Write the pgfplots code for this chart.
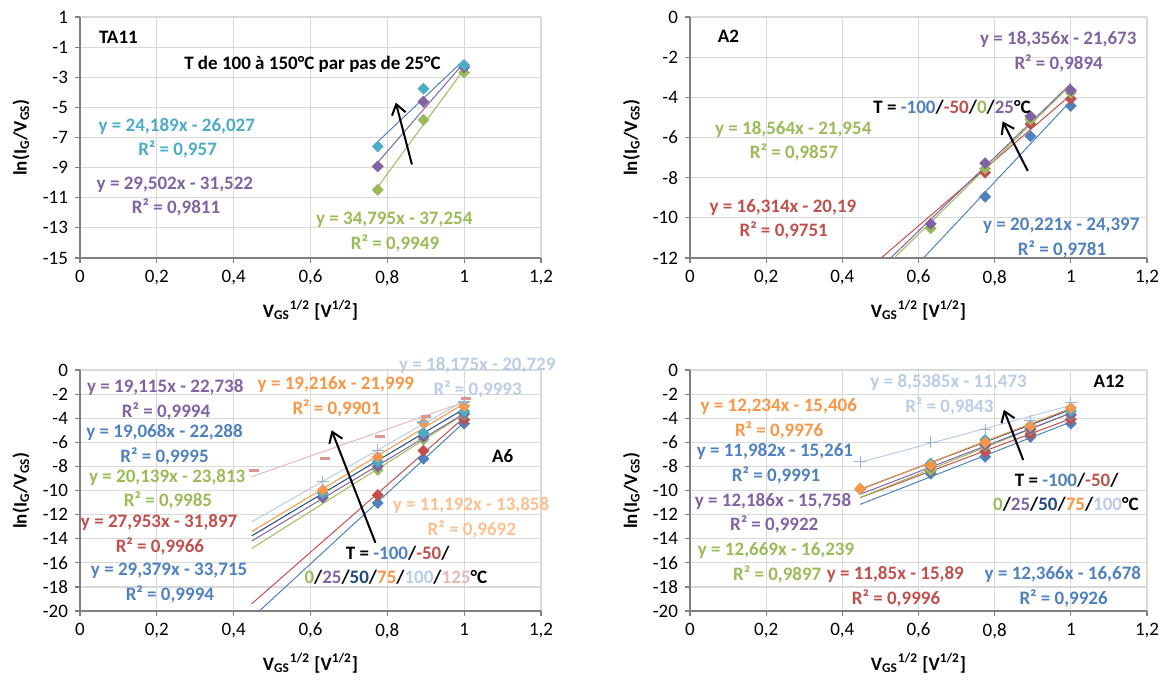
\documentclass[border=0pt]{standalone}
\usepackage{fontspec}
\setmainfont{Carlito}
\usepackage{pgfplots}
\pgfplotsset{compat=1.18}
\usetikzlibrary{arrows.meta}
\definecolor{xblue}{HTML}{4F81BD}
\definecolor{xred}{HTML}{C0504D}
\definecolor{xgreen}{HTML}{9BBB59}
\definecolor{xpurple}{HTML}{8064A2}
\definecolor{xaqua}{HTML}{4BACC6}
\definecolor{xorange}{HTML}{F79646}
\definecolor{xnavy}{HTML}{1F497D}
\definecolor{xlblue}{HTML}{B9CDE5}
\definecolor{xlbluem}{HTML}{95B3D7}
\definecolor{xpeach}{HTML}{FAC090}
\definecolor{xpink}{HTML}{E6B9B8}
\definecolor{xpinkm}{HTML}{D99694}
\definecolor{gridgray}{HTML}{D9D9D9}
\definecolor{axisgray}{HTML}{808080}
\newcommand{\ef}{\bfseries\fontsize{9.5}{11}\selectfont}
\pgfplotsset{
  panel/.style={
    scale only axis, height=120.5pt,
    xmin=0, xmax=1.2, xtick={0,0.2,0.4,0.6,0.8,1,1.2},
    axis lines*=left, axis line style={-, draw=axisgray, line width=0.9pt},
    grid=major, major grid style={draw=gridgray, line width=0.6pt},
    tick align=outside, major tick length=2.5pt, tick style={draw=axisgray, line width=0.6pt},
    tick label style={font=\fontsize{9.5}{11}\selectfont},
    /pgf/number format/assume math mode=true,
    xticklabel style={/pgf/number format/.cd, fixed, use comma, precision=1},
    yticklabel style={/pgf/number format/.cd, fixed, use comma},
    xlabel={V\textsubscript{GS}\textsuperscript{1/2} [V\textsuperscript{1/2}]},
    ylabel={ln(I\textsubscript{G}/V\textsubscript{GS})},
    label style={font=\ef},
    xlabel style={at={(axis description cs:0.5,-0.216)}, anchor=center},
    ylabel style={at={(axis description cs:-0.128,0.5)}, anchor=center},
    clip mode=individual,
  },
  tl/.style={no markers, line width=0.5pt, draw=#1},
  dm/.style={only marks, mark=square*, mark size=1.9pt, mark options={rotate=45, draw=#1, fill=#1}},
  pm/.style={only marks, mark=+, mark size=3pt, mark options={draw=#1, line width=0.6pt}},
  mm/.style={only marks, mark=-, mark size=2.5pt, mark options={draw=#1, line width=1.5pt}},
}
\tikzset{eq/.style={font=\ef, anchor=center, inner sep=0pt}, arr/.style={-{Straight Barb[length=5pt,width=7pt]}, line width=1pt, black}}
\begin{document}
\begin{tikzpicture}
\useasboundingbox (0,0) rectangle (583pt,340pt);
% ---------------- TA11
\begin{axis}[panel, at={(40pt,211pt)}, anchor=south west, width=230.5pt,
  ymin=-15, ymax=1, ytick={-15,-13,-11,-9,-7,-5,-3,-1,1}]
\addplot[tl=xblue] coordinates {(0.775,-7.281) (1,-1.838)};
\addplot[tl=xpurple] coordinates {(0.775,-8.658) (1,-2.020)};
\addplot[tl=xgreen] coordinates {(0.775,-10.288) (1,-2.459)};
\addplot[dm=xgreen] coordinates {(0.775,-10.48) (0.894,-5.83) (1,-2.69)};
\addplot[dm=xpurple] coordinates {(0.775,-8.92) (0.894,-4.62) (1,-2.34)};
\addplot[dm=xaqua] coordinates {(0.775,-7.6) (0.894,-3.76) (1,-2.2)};
\node[eq] at (axis cs:0.1,-0.35) {TA11};
\node[eq] at (axis cs:0.605,-2.15) {T de 100 à 150°C par pas de 25°C};
\draw[arr] (axis cs:0.864,-8.79) -- (axis cs:0.822,-4.68);
\node[eq, text=xaqua] at (axis cs:0.252,-6.24) {y = 24,189x - 26,027};
\node[eq, text=xaqua] at (axis cs:0.254,-7.8) {R² = 0,957};
\node[eq, text=xpurple] at (axis cs:0.247,-10.13) {y = 29,502x - 31,522};
\node[eq, text=xpurple] at (axis cs:0.25,-11.66) {R² = 0,9811};
\node[eq, text=xgreen] at (axis cs:0.818,-12.45) {y = 34,795x - 37,254};
\node[eq, text=xgreen] at (axis cs:0.82,-14.0) {R² = 0,9949};
\end{axis}
% ---------------- A2
\begin{axis}[panel, at={(345pt,211pt)}, anchor=south west, width=228.5pt,
  ymin=-12, ymax=0, ytick={-12,-10,-8,-6,-4,-2,0}]
\addplot[tl=xblue] coordinates {(0.447,-15.358) (1,-4.176)};
\addplot[tl=xred] coordinates {(0.447,-12.898) (1,-3.876)};
\addplot[tl=xgreen] coordinates {(0.447,-13.656) (1,-3.390)};
\addplot[tl=xpurple] coordinates {(0.447,-13.468) (1,-3.317)};
\addplot[dm=xblue] coordinates {(0.775,-8.95) (0.894,-5.94) (1,-4.43)};
\addplot[dm=xred] coordinates {(0.775,-7.75) (0.894,-5.33) (1,-4.08)};
\addplot[dm=xgreen] coordinates {(0.632,-10.52) (0.775,-7.55) (0.894,-5.1) (1,-3.77)};
\addplot[dm=xpurple] coordinates {(0.632,-10.3) (0.775,-7.28) (0.894,-4.95) (1,-3.65)};
\node[eq] at (axis cs:0.101,-0.94) {A2};
\node[eq, text=xpurple] at (axis cs:0.967,-1.14) {y = 18,356x - 21,673};
\node[eq, text=xpurple] at (axis cs:0.968,-2.3) {R² = 0,9894};
\node[eq] at (axis cs:0.688,-4.51) {T = \textcolor{xblue}{-100}/\textcolor{xred}{-50}/\textcolor{xgreen}{0}/\textcolor{xpurple}{25}°C};
\draw[arr] (axis cs:0.887,-7.67) -- (axis cs:0.821,-5.2);
\node[eq, text=xgreen] at (axis cs:0.271,-5.58) {y = 18,564x - 21,954};
\node[eq, text=xgreen] at (axis cs:0.273,-6.75) {R² = 0,9857};
\node[eq, text=xred] at (axis cs:0.244,-9.48) {y = 16,314x - 20,19};
\node[eq, text=xred] at (axis cs:0.246,-10.63) {R² = 0,9751};
\node[eq, text=xblue] at (axis cs:0.975,-10.42) {y = 20,221x - 24,397};
\node[eq, text=xblue] at (axis cs:0.977,-11.56) {R² = 0,9781};
\end{axis}
% ---------------- A6
\begin{axis}[panel, at={(40pt,34.5pt)}, anchor=south west, width=230.5pt,
  ymin=-20, ymax=0, ytick={-20,-18,-16,-14,-12,-10,-8,-6,-4,-2,0}]
\addplot[tl=xpink] coordinates {(0.447,-8.855) (1,-2.666)};
\addplot[tl=xblue] coordinates {(0.447,-20.583) (1,-4.336)};
\addplot[tl=xred] coordinates {(0.447,-19.402) (1,-3.944)};
\addplot[tl=xgreen] coordinates {(0.447,-14.811) (1,-3.674)};
\addplot[tl=xpurple] coordinates {(0.447,-14.194) (1,-3.623)};
\addplot[tl=xnavy] coordinates {(0.447,-13.765) (1,-3.220)};
\addplot[tl=xorange] coordinates {(0.447,-13.409) (1,-2.783)};
\addplot[tl=xlblue] coordinates {(0.447,-12.605) (1,-2.554)};
\addplot[dm=xblue] coordinates {(0.775,-11.04) (0.894,-7.36) (1,-4.45)};
\addplot[dm=xred] coordinates {(0.775,-10.38) (0.894,-6.7) (1,-4.12)};
\addplot[dm=xgreen] coordinates {(0.632,-10.6) (0.775,-8.3) (0.894,-5.77) (1,-3.7)};
\addplot[dm=xpurple] coordinates {(0.632,-10.58) (0.775,-8.0) (0.894,-5.55) (1,-3.62)};
\addplot[dm=xaqua] coordinates {(0.632,-10.22) (0.775,-7.6) (0.894,-5.22) (1,-3.43)};
\addplot[dm=xorange] coordinates {(0.632,-9.95) (0.775,-7.2) (0.894,-4.4) (1,-3.0)};
\addplot[pm=xlbluem] coordinates {(0.632,-9.26) (0.775,-6.65) (0.894,-4.31) (1,-2.66)};
\addplot[mm=xpinkm] coordinates {(0.453,-8.38) (0.638,-7.33) (0.781,-5.55) (0.9,-3.9) (1.005,-2.33)};
\node[eq, text=xpurple] at (axis cs:0.222,-1.48) {y = 19,115x - 22,738};
\node[eq, text=xpurple] at (axis cs:0.224,-3.43) {R² = 0,9994};
\node[eq, text=xblue] at (axis cs:0.22,-5.19) {y = 19,068x - 22,288};
\node[eq, text=xblue] at (axis cs:0.22,-7.14) {R² = 0,9995};
\node[eq, text=xgreen] at (axis cs:0.227,-8.93) {y = 20,139x - 23,813};
\node[eq, text=xgreen] at (axis cs:0.229,-10.85) {R² = 0,9985};
\node[eq, text=xred] at (axis cs:0.206,-12.69) {y = 27,953x - 31,897};
\node[eq, text=xred] at (axis cs:0.208,-14.64) {R² = 0,9966};
\node[eq, text=xblue] at (axis cs:0.232,-16.65) {y = 29,379x - 33,715};
\node[eq, text=xblue] at (axis cs:0.234,-18.63) {R² = 0,9994};
\node[eq, text=xorange] at (axis cs:0.666,-1.24) {y = 19,216x - 21,999};
\node[eq, text=xorange] at (axis cs:0.668,-3.16) {R² = 0,9901};
\node[eq, text=xlblue] at (axis cs:1.034,0.36) {y = 18,175x - 20,729};
\node[eq, text=xlblue] at (axis cs:1.035,-1.59) {R² = 0,9993};
\node[eq] at (axis cs:1.1,-7.14) {A6};
\node[eq, text=xpeach] at (axis cs:1.018,-11.26) {y = 11,192x - 13,858};
\node[eq, text=xpeach] at (axis cs:1.02,-13.24) {R² = 0,9692};
\node[eq] at (axis cs:0.827,-15.22) {T = \textcolor{xblue}{-100}/\textcolor{xred}{-50}/};
\node[eq] at (axis cs:0.822,-17.23) {\textcolor{xgreen}{0}/\textcolor{xpurple}{25}/\textcolor{xnavy}{50}/\textcolor{xorange}{75}/\textcolor{xlblue}{100}/\textcolor{xpink}{125}°C};
\draw[arr] (axis cs:0.769,-14.34) -- (axis cs:0.655,-5.0);
\end{axis}
% ---------------- A12
\begin{axis}[panel, at={(345pt,34.5pt)}, anchor=south west, width=228.5pt,
  ymin=-20, ymax=0, ytick={-20,-18,-16,-14,-12,-10,-8,-6,-4,-2,0}]
\addplot[tl=xlblue] coordinates {(0.447,-7.656) (1,-2.935)};
\addplot[tl=xblue] coordinates {(0.447,-11.150) (1,-4.312)};
\addplot[tl=xred] coordinates {(0.447,-10.593) (1,-4.040)};
\addplot[tl=xgreen] coordinates {(0.447,-10.576) (1,-3.570)};
\addplot[tl=xpurple] coordinates {(0.447,-10.311) (1,-3.572)};
\addplot[tl=xnavy] coordinates {(0.447,-9.905) (1,-3.279)};
\addplot[tl=xorange] coordinates {(0.447,-9.937) (1,-3.172)};
\addplot[dm=xblue] coordinates {(0.632,-8.6) (0.775,-7.2) (0.894,-5.55) (1,-4.45)};
\addplot[dm=xred] coordinates {(0.632,-8.35) (0.775,-6.8) (0.894,-5.3) (1,-4.1)};
\addplot[dm=xgreen] coordinates {(0.632,-8.3) (0.775,-6.3) (0.894,-4.95) (1,-3.75)};
\addplot[dm=xpurple] coordinates {(0.632,-8.0) (0.775,-6.2) (0.894,-4.9) (1,-3.7)};
\addplot[dm=xaqua] coordinates {(0.447,-9.9) (0.632,-7.75) (0.775,-5.8) (0.894,-4.6) (1,-3.4)};
\addplot[dm=xorange] coordinates {(0.447,-9.85) (0.632,-7.9) (0.775,-6.0) (0.894,-4.65) (1,-3.15)};
\addplot[pm=xlbluem] coordinates {(0.447,-7.6) (0.632,-6.0) (0.775,-4.97) (0.894,-4.2) (1,-2.7)};
\node[eq] at (axis cs:1.1,-0.93) {A12};
\node[eq, text=xlblue] at (axis cs:0.679,-1.07) {y = 8,5385x - 11,473};
\node[eq, text=xlblue] at (axis cs:0.681,-3.02) {R² = 0,9843};
\node[eq, text=xorange] at (axis cs:0.233,-3.05) {y = 12,234x - 15,406};
\node[eq, text=xorange] at (axis cs:0.234,-5.0) {R² = 0,9976};
\node[eq, text=xblue] at (axis cs:0.223,-6.79) {y = 11,982x - 15,261};
\node[eq, text=xblue] at (axis cs:0.226,-8.74) {R² = 0,9991};
\node[eq, text=xpurple] at (axis cs:0.218,-10.9) {y = 12,186x - 15,758};
\node[eq, text=xpurple] at (axis cs:0.221,-12.83) {R² = 0,9922};
\node[eq, text=xgreen] at (axis cs:0.226,-14.97) {y = 12,669x - 16,239};
\node[eq, text=xgreen] at (axis cs:0.229,-17.0) {R² = 0,9897};
\node[eq, text=xred] at (axis cs:0.539,-17.0) {y = 11,85x - 15,89};
\node[eq, text=xred] at (axis cs:0.541,-18.93) {R² = 0,9996};
\node[eq, text=xblue] at (axis cs:0.979,-17.0) {y = 12,366x - 16,678};
\node[eq, text=xblue] at (axis cs:0.981,-18.96) {R² = 0,9926};
\node[eq] at (axis cs:0.989,-9.18) {T = \textcolor{xblue}{-100}/\textcolor{xred}{-50}/};
\node[eq] at (axis cs:0.987,-11.13) {\textcolor{xgreen}{0}/\textcolor{xpurple}{25}/\textcolor{xnavy}{50}/\textcolor{xorange}{75}/\textcolor{xlblue}{100}°C};
\draw[arr] (axis cs:0.875,-7.47) -- (axis cs:0.824,-3.3);
\end{axis}
\end{tikzpicture}
\end{document}
